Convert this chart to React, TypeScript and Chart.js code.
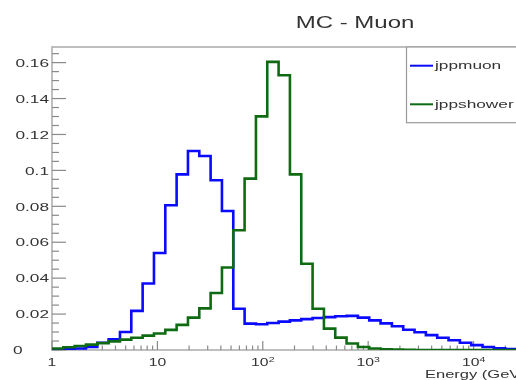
import { useEffect, useRef } from "react";
import { Chart, registerables } from "chart.js";

Chart.register(...registerables);

// Histogram binning: equal bins in log10(E), starting at 1 GeV
const BIN_WIDTH_DECADES = 0.1075;
const N_BINS = 42;
const X_MIN = 1;
const X_MAX = 10 ** 4.45;
const Y_MAX = 0.1687;

const TITLE = "MC - Muon";
const X_TITLE = "Energy (GeV)";
const SERIES_NAMES = ["jppmuon", "jppshower"];
const SERIES_COLORS = ["#0a0aff", "#0f6b12"];

// Normalised bin contents per series
const jppmuon = [
  0.0002, 0.0004, 0.0008, 0.0017, 0.004, 0.006, 0.01, 0.0218, 0.037, 0.054,
  0.0806, 0.0978, 0.1108, 0.108, 0.0945, 0.0774, 0.023, 0.0147, 0.0143, 0.015,
  0.0158, 0.0165, 0.0172, 0.0178, 0.0183, 0.0188, 0.019, 0.018, 0.0165, 0.0148,
  0.0132, 0.0113, 0.0099, 0.0083, 0.0068, 0.0054, 0.004, 0.0027, 0.0017, 0.0009,
  0.0005, 0.0003,
];
const jppshower = [
  0.0008, 0.0015, 0.0022, 0.003, 0.0038, 0.0048, 0.0058, 0.0068, 0.008, 0.0092,
  0.0112, 0.014, 0.018, 0.0232, 0.0317, 0.0459, 0.0667, 0.0954, 0.1301, 0.1604,
  0.153, 0.0978, 0.048, 0.023, 0.0119, 0.0069, 0.0036, 0.0017, 0.0008, 0.0004,
  0.0002, 0.0001, 0, 0, 0, 0, 0, 0, 0, 0, 0, 0,
];

// Axis ticks and labels
const Y_TICKS = [0, 0.02, 0.04, 0.06, 0.08, 0.1, 0.12, 0.14, 0.16];
const Y_TICK_LABELS = ["0", "0.02", "0.04", "0.06", "0.08", "0.1", "0.12", "0.14", "0.16"];
const Y_MINOR_PER_MAJOR = 4;
const X_TICKS = [1, 10, 100, 1000, 10000];
const X_TICK_BASES = ["1", "10", "10", "10", "10"];
const X_TICK_EXPONENTS = ["", "", "2", "3", "4"];

const FONT = '"Liberation Sans", Arial, Helvetica, sans-serif';
const STRETCH = 1.5; // wide lettering
const TEXT = "#333333";

const binEdges = Array.from({ length: N_BINS + 1 }, (_, i) => 10 ** (i * BIN_WIDTH_DECADES));

// One point per lower bin edge plus the final upper edge
function histPoints(values: number[]) {
  const pts = values.map((v, i) => ({ x: binEdges[i], y: v }));
  pts.push({ x: binEdges[values.length], y: values[values.length - 1] });
  return pts;
}

function textWidth(ctx: CanvasRenderingContext2D, text: string, size: number) {
  ctx.font = `${size}px ${FONT}`;
  return ctx.measureText(text).width * STRETCH;
}

function wideText(
  ctx: CanvasRenderingContext2D,
  text: string,
  x: number,
  y: number,
  size: number,
  align: "left" | "center" | "right" = "left",
  color = TEXT
) {
  ctx.save();
  const w = textWidth(ctx, text, size);
  const left = align === "left" ? x : align === "center" ? x - w / 2 : x - w;
  ctx.translate(left, y);
  ctx.scale(STRETCH, 1);
  ctx.font = `${size}px ${FONT}`;
  ctx.textAlign = "left";
  ctx.textBaseline = "alphabetic";
  ctx.fillStyle = color;
  ctx.fillText(text, 0, 0);
  ctx.restore();
}

function seg(ctx: CanvasRenderingContext2D, x1: number, y1: number, x2: number, y2: number) {
  ctx.beginPath();
  ctx.moveTo(x1, y1);
  ctx.lineTo(x2, y2);
  ctx.stroke();
}

const rootFrame = {
  id: "rootFrame",
  beforeDatasetsDraw(chart: Chart) {
    const { ctx, chartArea: a } = chart;
    const xs = chart.scales.x;
    const ys = chart.scales.y;
    ctx.save();
    ctx.strokeStyle = "#b0b0b0";
    ctx.lineWidth = 1.6;
    ctx.strokeRect(a.left, a.top, a.right - a.left, a.bottom - a.top);

    ctx.strokeStyle = "#8a8a8a";
    ctx.lineWidth = 1.2;
    // y ticks: minor every quarter of a major step
    const minor = (Y_TICKS[1] - Y_TICKS[0]) / Y_MINOR_PER_MAJOR;
    for (let i = 0; i * minor <= Y_MAX + 1e-9; i++) {
      const y = ys.getPixelForValue(i * minor);
      const len = i % Y_MINOR_PER_MAJOR === 0 ? 14 : 7;
      seg(ctx, a.left, y, a.left + len, y);
    }
    // x ticks: decades plus 2..9 minors
    for (const d of X_TICKS) {
      for (let m = 1; m <= 9; m++) {
        const v = d * m;
        if (v < X_MIN || v > X_MAX) continue;
        const x = xs.getPixelForValue(v);
        const len = m === 1 ? 9 : 4.5;
        seg(ctx, x, a.bottom, x, a.bottom - len);
      }
    }
    ctx.restore();
  },
  afterDraw(chart: Chart) {
    const { ctx, chartArea: a } = chart;
    const xs = chart.scales.x;
    const ys = chart.scales.y;

    // y labels
    Y_TICKS.forEach((v, i) => {
      const y = ys.getPixelForValue(v) + 4.2;
      if (v === 0) wideText(ctx, Y_TICK_LABELS[i], 13, y, 11.5, "left");
      else wideText(ctx, Y_TICK_LABELS[i], a.left - 3, y, 11.5, "right");
    });

    // x labels with superscript exponents
    X_TICKS.forEach((v, i) => {
      const x = xs.getPixelForValue(v);
      const base = X_TICK_BASES[i];
      const exp = X_TICK_EXPONENTS[i];
      const wb = textWidth(ctx, base, 10.5);
      const we = exp ? textWidth(ctx, exp, 7) : 0;
      const left = x - (wb + we) / 2;
      const baseY = a.bottom + 16;
      wideText(ctx, base, left, baseY, 10.5, "left");
      if (exp) wideText(ctx, exp, left + wb, baseY - 4.5, 7, "left");
    });

    // x axis title
    wideText(ctx, X_TITLE, 425, a.bottom + 27.5, 11, "left");

    // title
    wideText(ctx, TITLE, 355, 28.3, 16, "center");

    // legend box
    ctx.save();
    ctx.fillStyle = "#ffffff";
    ctx.strokeStyle = "#9a9a9a";
    ctx.lineWidth = 1.2;
    ctx.fillRect(406.5, a.top, 200, 75.7);
    ctx.strokeRect(406.5, a.top, 200, 75.7);
    SERIES_NAMES.forEach((name, i) => {
      const y = 65.7 + i * 38.6;
      ctx.strokeStyle = SERIES_COLORS[i];
      ctx.lineWidth = 2;
      seg(ctx, 410, y, 433, y);
      wideText(ctx, name, 435, y + 3.6, 11.5, "left");
    });
    ctx.restore();
  },
};

export default function App() {
  const ref = useRef<HTMLCanvasElement>(null);

  useEffect(() => {
    const canvas = ref.current;
    if (!canvas) return;
    const chart = new Chart(canvas, {
      type: "line",
      data: {
        datasets: [
          {
            label: SERIES_NAMES[0],
            data: histPoints(jppmuon),
            borderColor: SERIES_COLORS[0],
            borderWidth: 2.6,
            stepped: "before",
            pointRadius: 0,
            fill: false,
            order: 1,
          },
          {
            label: SERIES_NAMES[1],
            data: histPoints(jppshower),
            borderColor: SERIES_COLORS[1],
            borderWidth: 2.6,
            stepped: "before",
            pointRadius: 0,
            fill: false,
            order: 0,
          },
        ],
      },
      options: {
        responsive: false,
        animation: false,
        devicePixelRatio: 1,
        layout: { padding: { left: 52, top: 47, right: 19, bottom: 30 } },
        scales: {
          x: { type: "logarithmic", min: X_MIN, max: X_MAX, display: false },
          y: { type: "linear", min: 0, max: Y_MAX, display: false },
        },
        plugins: {
          legend: { display: false },
          title: { display: false },
          tooltip: { enabled: false },
        },
      },
      plugins: [rootFrame],
    });
    return () => chart.destroy();
  }, []);

  return (
    <div
      style={{
        position: "fixed",
        left: 0,
        top: 0,
        width: 516,
        height: 380,
        overflow: "hidden",
        background: "#ffffff",
      }}
    >
      <canvas ref={ref} width={540} height={380} style={{ display: "block" }} />
    </div>
  );
}
